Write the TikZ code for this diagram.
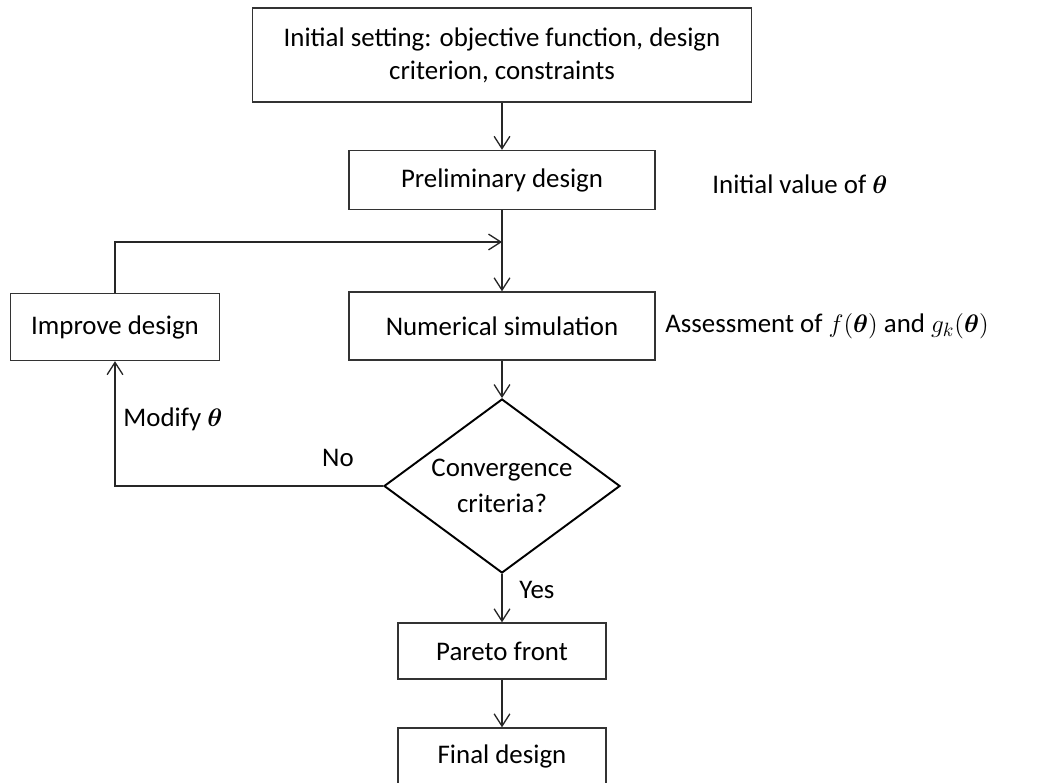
\documentclass[tikz,border=0pt]{standalone}
\usepackage{fontspec}
\setmainfont{Carlito}
\usepackage{amsmath}
\usepackage{amssymb}
\usetikzlibrary{shapes.geometric,arrows.meta,positioning}

\begin{document}
\begin{tikzpicture}
                %% setup
                [
                    x=0.02cm, y=-0.02cm,
                    every node/.style={font=\fontsize{15.3}{18.7}\selectfont},
                    stepnode/.style={rectangle, draw=black!80, line width=0.8pt, align=center, inner sep=2pt},
                    decisionnode/.style={diamond, aspect=1.36, draw=black, line width=1.1pt, align=center, inner sep=0pt},
                    link/.style={draw=black!85, line width=0.75pt, -{Straight Barb[length=7pt,width=9pt]}},
                ]
                    %% Frame
                    \useasboundingbox (0,0) rectangle (1040,783);

                    %% Nodes
                    \node [stepnode, minimum width=499*0.02cm, minimum height=94*0.02cm] (setting) at (502,55) {Initial setting: objective function, design\\ criterion, constraints};
                    \node [stepnode, minimum width=306*0.02cm, minimum height=59*0.02cm] (prelim) at (502,180) {Preliminary design};
                    \node [stepnode, minimum width=306*0.02cm, minimum height=68*0.02cm] (simul) at (502,326) {Numerical simulation};
                    \node [stepnode, minimum width=209*0.02cm, minimum height=67*0.02cm] (improve) at (115,327) {Improve design};
                    \node [decisionnode, minimum width=236*0.02cm, minimum height=174*0.02cm] (converge) at (502,486) {Convergence\\[2pt] criteria?};
                    \node [stepnode, minimum width=208*0.02cm, minimum height=56*0.02cm] (pareto) at (502,651) {Pareto front};
                    \node [stepnode, minimum width=208*0.02cm, minimum height=56*0.02cm] (final) at (502,756) {Final design};

                    \node [anchor=west, inner sep=0pt] (initval) at (712,184) {Initial value of $\boldsymbol{\theta}$};
                    \node [anchor=west, inner sep=0pt] (assess) at (665,326) {Assessment of $f(\boldsymbol{\theta})$ and $g_k(\boldsymbol{\theta})$};
                    \node [anchor=west, inner sep=0pt] (modify) at (123,419) {Modify $\boldsymbol{\theta}$};
                    \node [] (nolabel) at (338,458) {No};
                    \node [anchor=west, inner sep=0pt] (yeslabel) at (519,590) {Yes};

                    \coordinate (merge) at (prelim.south |- 0,242);
                    \coordinate (loopup) at (improve.north |- 0,242);
                    \coordinate (loopdown) at (improve.south |- converge.west);

                    %% Lines
                    \draw[link] (setting.south) -- (prelim.north);
                    \draw[link] (prelim.south) -- (simul.north);
                    \draw[link] (improve.north) -- (loopup) -- (merge);
                    \draw[link] (simul.south) -- (converge.north);
                    \draw[link] (converge.west) -- (loopdown) -- (improve.south);
                    \draw[link] (converge.south) -- (pareto.north);
                    \draw[link] (pareto.south) -- (final.north);
                \end{tikzpicture}
\end{document}
